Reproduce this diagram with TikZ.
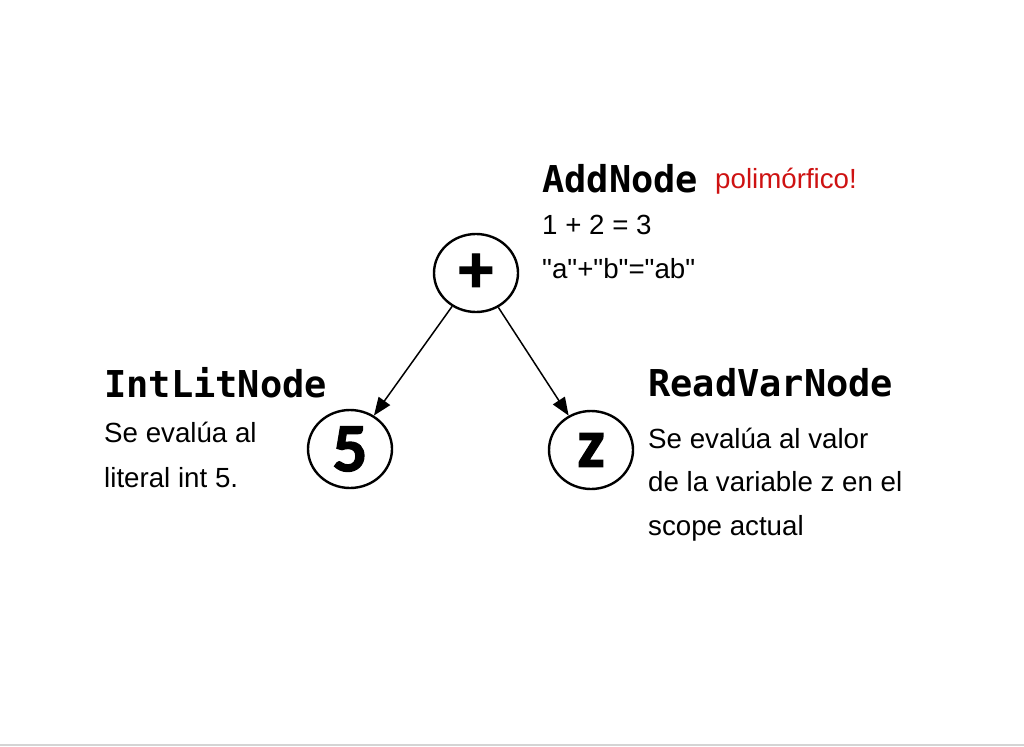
\documentclass[tikz,border=0pt]{standalone}
\usepackage{fontspec}
\setmainfont{Liberation Sans}
\newfontfamily\monobold{DejaVu Sans Mono}
\newfontfamily\circfont{Carlito}[BoldFeatures={FakeBold=1.8}]
\usetikzlibrary{shapes.geometric,arrows.meta}
\definecolor{polyred}{RGB}{206,18,18}
\definecolor{edgegray}{RGB}{212,212,212}
\tikzset{
  astnode/.style={draw=black, line width=2.4pt, ellipse, minimum width=84pt, minimum height=78pt, inner sep=0pt, font=\circfont\bfseries\fontsize{69}{69}\selectfont},
  arr/.style={draw=black, line width=1.5pt, -{Triangle[length=18pt,width=14pt]}},
  title/.style={anchor=base west, inner sep=0pt, font=\monobold\bfseries\fontsize{37}{37}\selectfont},
  body/.style={anchor=base west, inner sep=0pt, font=\fontsize{27.7}{27.7}\selectfont},
}
\begin{document}
\begin{tikzpicture}[x=1pt,y=-1pt]
\useasboundingbox (0,0) rectangle (1024,746);
\fill[white] (0,0) rectangle (1024,746);
\coordinate (bl) at (0,745);
\coordinate (br) at (1024,745);
\draw[edgegray, line width=1.5pt] (bl) -- (br);

\node[astnode] (plus) at (476,273) {+};
\node[astnode] (five) at (350,449) {5};
\node[astnode] (zed) at (591,450) {z};

\draw[arr] (plus) -- (five);
\draw[arr] (plus) -- (zed);

\node[title] (addt) at (542,192) {AddNode};
\node[body, text=polyred] (poly) at (715,189) {polimórfico!};
\node[body] (add1) at (542,234) {1 + 2 = 3};
\node[body] (add2) at (542,278) {\textquotedbl a\textquotedbl+\textquotedbl b\textquotedbl=\textquotedbl ab\textquotedbl};

\node[title] (intt) at (104,397) {IntLitNode};
\node[body] (int1) at (104,442) {Se evalúa al};
\node[body] (int2) at (104,487) {literal int 5.};

\node[title] (readt) at (648,396) {ReadVarNode};
\node[body] (read1) at (648,448) {Se evalúa al valor};
\node[body] (read2) at (648,491) {de la variable z en el};
\node[body] (read3) at (648,535) {scope actual};
\end{tikzpicture}
\end{document}
